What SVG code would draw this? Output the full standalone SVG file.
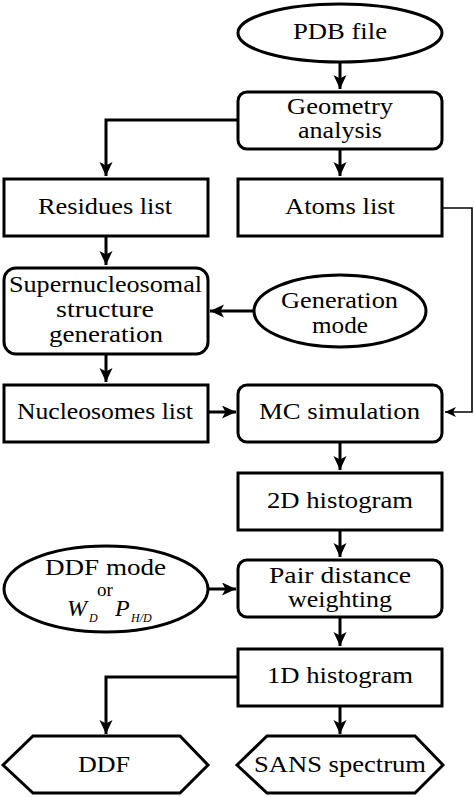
<svg xmlns="http://www.w3.org/2000/svg" width="474" height="797" viewBox="0 0 474 797">
<style>
.n{fill:#fff;stroke:#000;stroke-width:3}
.t{font-family:"Liberation Serif",serif;font-size:24px;fill:#000;text-anchor:middle}
.c{fill:none;stroke:#000;stroke-width:3}
.c2{fill:none;stroke:#000;stroke-width:1.6}
</style>
<defs>
<marker id="ah" markerUnits="userSpaceOnUse" markerWidth="16" markerHeight="14" refX="14" refY="6.5" orient="auto">
<path d="M0,0 L14,6.5 L0,13 L3.5,6.5 Z" fill="#000"/>
</marker>
<marker id="ahs" markerUnits="userSpaceOnUse" markerWidth="13" markerHeight="11" refX="11" refY="5" orient="auto">
<path d="M0,0 L11,5 L0,10 L3,5 Z" fill="#000"/>
</marker>
</defs>
<rect width="474" height="797" fill="#fff"/>
<g id="connectors">
<path class="c" d="M340,62 V89" marker-end="url(#ah)"/>
<path class="c" d="M237,120 H106 V176" marker-end="url(#ah)"/>
<path class="c" d="M340,150 V176" marker-end="url(#ah)"/>
<path class="c2" d="M443,208 H472 V412 H445" marker-end="url(#ahs)"/>
<path class="c" d="M106,237 V265" marker-end="url(#ah)"/>
<path class="c" d="M254,311 H210" marker-end="url(#ah)"/>
<path class="c" d="M106,355 V382" marker-end="url(#ah)"/>
<path class="c" d="M208,412 H236" marker-end="url(#ah)"/>
<path class="c" d="M340,443 V470" marker-end="url(#ah)"/>
<path class="c" d="M340,531 V557" marker-end="url(#ah)"/>
<path class="c" d="M208,589 H236" marker-end="url(#ah)"/>
<path class="c" d="M340,618 V646" marker-end="url(#ah)"/>
<path class="c" d="M237,677 H106 V734" marker-end="url(#ah)"/>
<path class="c" d="M340,707 V734" marker-end="url(#ah)"/>
</g>
<g id="pdb">
<ellipse class="n" cx="340" cy="33" rx="102" ry="29"/>
<text class="t" x="340" y="39" textLength="94" lengthAdjust="spacingAndGlyphs">PDB file</text>
</g>
<g id="geometry">
<rect class="n" x="238" y="92" width="204" height="57" rx="9"/>
<text class="t" x="340" y="114" textLength="106" lengthAdjust="spacingAndGlyphs">Geometry</text>
<text class="t" x="340" y="138" textLength="84" lengthAdjust="spacingAndGlyphs">analysis</text>
</g>
<g id="residues">
<rect class="n" x="4" y="179" width="204" height="57"/>
<text class="t" x="105" y="214" textLength="134" lengthAdjust="spacingAndGlyphs">Residues list</text>
</g>
<g id="atoms">
<rect class="n" x="238" y="179" width="204" height="57"/>
<text class="t" x="340" y="214" textLength="110" lengthAdjust="spacingAndGlyphs">Atoms list</text>
</g>
<g id="supernucleosomal">
<rect class="n" x="4" y="268" width="204" height="86" rx="12"/>
<text class="t" x="105.5" y="292" textLength="193" lengthAdjust="spacingAndGlyphs">Supernucleosomal</text>
<text class="t" x="105" y="317" textLength="98" lengthAdjust="spacingAndGlyphs">structure</text>
<text class="t" x="106" y="342" textLength="114" lengthAdjust="spacingAndGlyphs">generation</text>
</g>
<g id="generation-mode">
<ellipse class="n" cx="340" cy="311" rx="86" ry="36"/>
<text class="t" x="339.5" y="308" textLength="117" lengthAdjust="spacingAndGlyphs">Generation</text>
<text class="t" x="340" y="333" textLength="56" lengthAdjust="spacingAndGlyphs">mode</text>
</g>
<g id="nucleosomes">
<rect class="n" x="4" y="385" width="204" height="57"/>
<text class="t" x="105" y="419" textLength="176" lengthAdjust="spacingAndGlyphs">Nucleosomes list</text>
</g>
<g id="mc">
<rect class="n" x="238" y="385" width="204" height="57" rx="9"/>
<text class="t" x="339.5" y="419" textLength="161" lengthAdjust="spacingAndGlyphs">MC simulation</text>
</g>
<g id="hist2d">
<rect class="n" x="238" y="473" width="204" height="57"/>
<text class="t" x="340" y="508" textLength="146" lengthAdjust="spacingAndGlyphs">2D histogram</text>
</g>
<g id="ddf-mode">
<ellipse class="n" cx="106" cy="589" rx="102" ry="43"/>
<text class="t" x="105.5" y="575" textLength="121" lengthAdjust="spacingAndGlyphs">DDF mode</text>
<text class="t" x="105" y="596" style="font-size:19px">or</text>
<text class="t" x="67" y="616" style="text-anchor:start;font-style:italic">W</text>
<text class="t" x="89" y="622" style="text-anchor:start;font-style:italic;font-size:12px">D</text>
<text class="t" x="115" y="616" style="text-anchor:start;font-style:italic">P</text>
<text class="t" x="131" y="622" style="text-anchor:start;font-style:italic;font-size:12px">H/D</text>
</g>
<g id="pair">
<rect class="n" x="238" y="560" width="204" height="57" rx="9"/>
<text class="t" x="340" y="583" textLength="142" lengthAdjust="spacingAndGlyphs">Pair distance</text>
<text class="t" x="340" y="607" textLength="104" lengthAdjust="spacingAndGlyphs">weighting</text>
</g>
<g id="hist1d">
<rect class="n" x="238" y="649" width="204" height="57"/>
<text class="t" x="340" y="683" textLength="146" lengthAdjust="spacingAndGlyphs">1D histogram</text>
</g>
<g id="ddf">
<polygon class="n" points="3,765 33,736 180,736 208,765 180,793 33,793"/>
<text class="t" x="104" y="772" textLength="52" lengthAdjust="spacingAndGlyphs">DDF</text>
</g>
<g id="sans">
<polygon class="n" points="237,765 267,736 415,736 443,765 415,793 267,793"/>
<text class="t" x="340" y="772" textLength="172" lengthAdjust="spacingAndGlyphs">SANS spectrum</text>
</g>
</svg>
